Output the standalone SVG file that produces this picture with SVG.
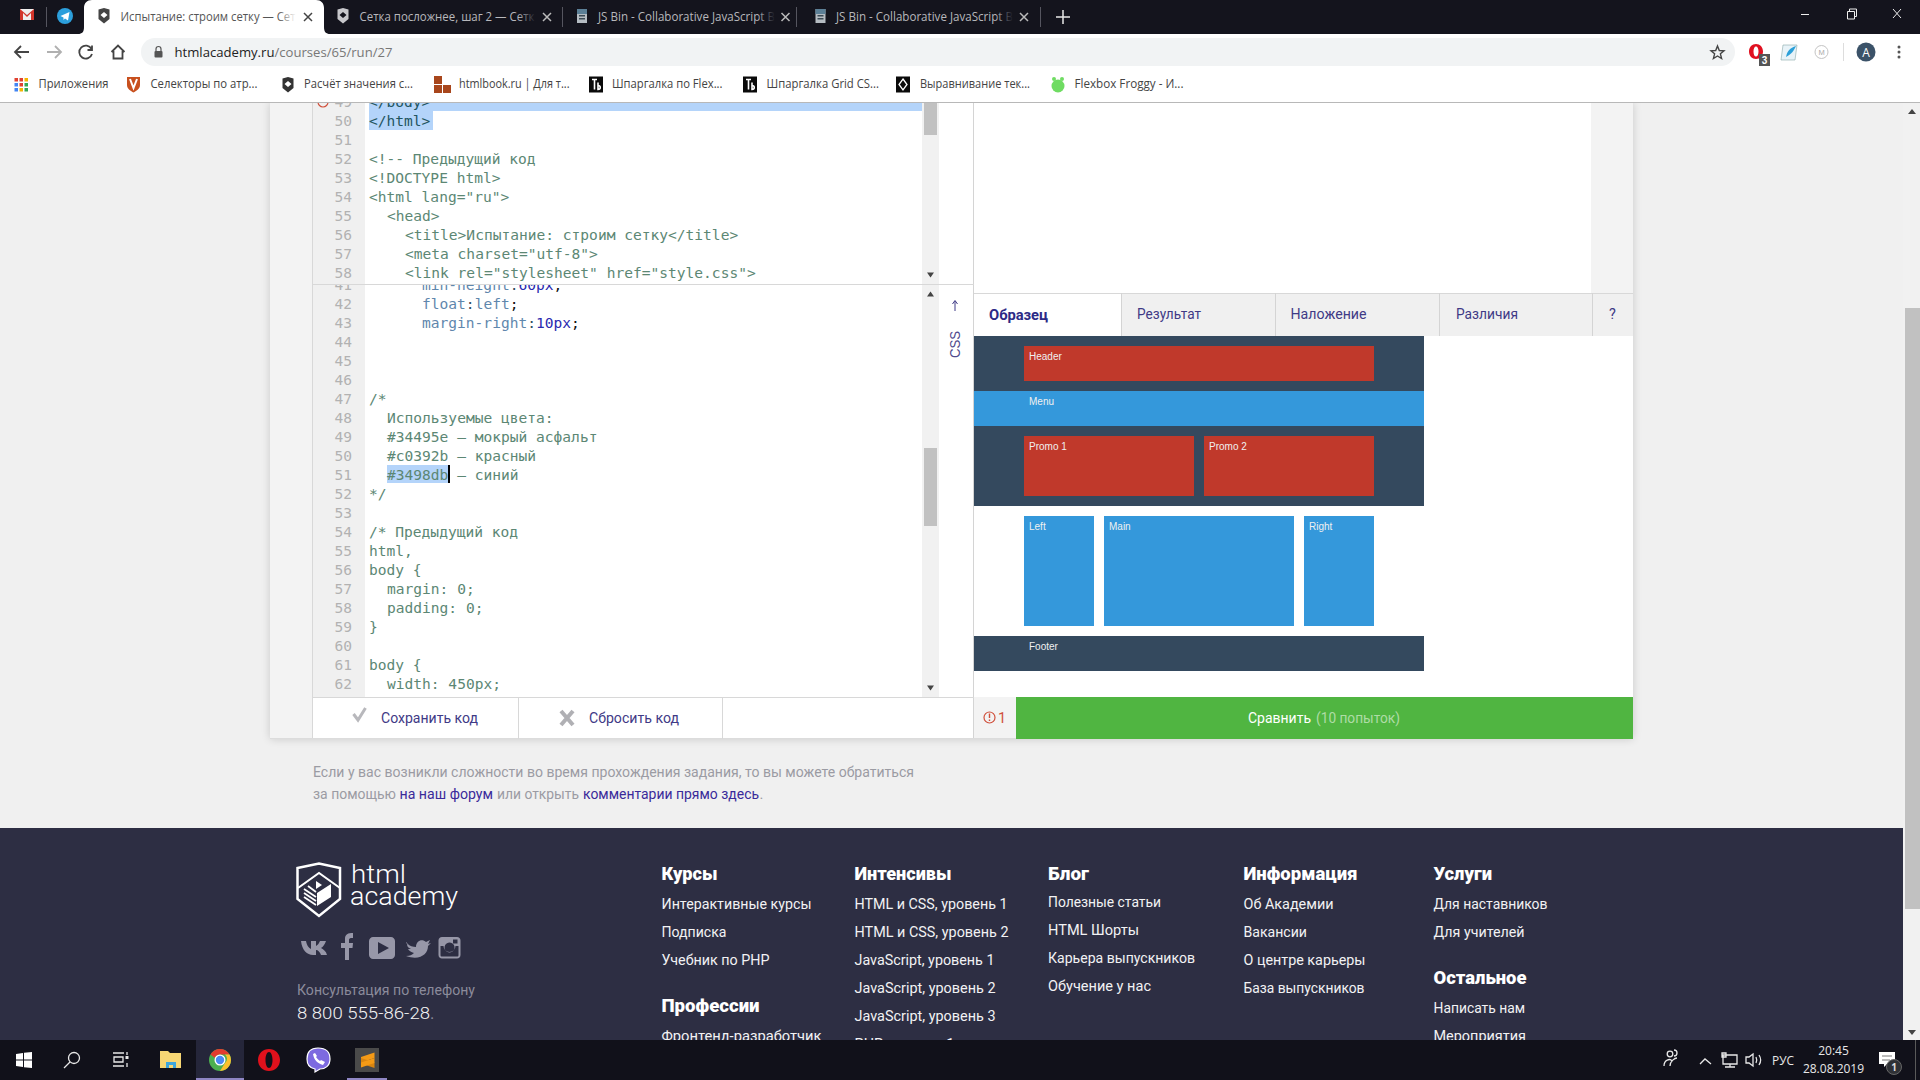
<svg xmlns="http://www.w3.org/2000/svg" width="1920" height="1080" viewBox="0 0 1920 1080">
<style>
.ui{font-family:"Open Sans","Liberation Sans",sans-serif;font-size:12.5px}
.tabd{fill:#b8b8bc}
.bm{fill:#444}
.m{font-family:"DejaVu Sans Mono","Liberation Mono",monospace;font-size:14.57px;white-space:pre}
.n{fill:#b2b2b2;text-anchor:end}
.c{fill:#5c8774}
.t{fill:#1f5560}
.p{fill:#5f87ad}
.o{fill:#2f4f5f}
.v{fill:#2a2ab0}
.k{fill:#111}
.r{font-family:Roboto,"Liberation Sans",sans-serif}
.tab{font-size:14.5px;fill:#3f3a86}
.lab{font-family:"Liberation Sans",Arial,sans-serif;font-size:10px;fill:#f0f0f0}
.note{font-size:14.8px;fill:#9b9ba3}
.lnk{fill:#3a2a9a}
.f{font-size:15.4px;fill:#f2f2f4}
.fh{font-size:17.5px;font-weight:900;fill:#fff}
.tb{font-family:"Open Sans","Liberation Sans",sans-serif;font-size:12px;fill:#e8e8e8}
.ic{fill:none;stroke:#e8e8e8;stroke-width:1.3}
.soc{fill:#9797a8}
</style>
<defs>
<clipPath id="c1"><rect x="312" y="103" width="661" height="181"/></clipPath>
<clipPath id="c2"><rect x="312" y="285" width="661" height="412"/></clipPath>
<filter id="sh" x="-5%" y="-5%" width="110%" height="110%"><feGaussianBlur stdDeviation="5"/></filter>
<linearGradient id="fw" x1="0" x2="1" y1="0" y2="0"><stop offset="0" stop-color="#fff" stop-opacity="0"/><stop offset="1" stop-color="#fff"/></linearGradient>
<linearGradient id="fd" x1="0" x2="1" y1="0" y2="0"><stop offset="0" stop-color="#14141d" stop-opacity="0"/><stop offset="1" stop-color="#14141d"/></linearGradient>
<path id="shield" d="M-5.5,-6.5 L0,-8 L5.5,-6.5 V3 L0,7.5 L-5.5,3 Z M-3.5,-1 L0,-4 L3.5,-1 L0,2 Z" fill-rule="evenodd"/>
<g id="jsb"><rect x="-5" y="-7" width="10" height="14" fill="#b5bcc2"/><rect x="-5" y="-7" width="10" height="5" fill="#5b7f96"/><rect x="-3" y="-1" width="6" height="1.5" fill="#3b4a55"/><rect x="-3" y="2" width="6" height="1.5" fill="#3b4a55"/></g>
<g id="tbi"><rect x="-7" y="-8" width="14" height="16" fill="#0a0a0a"/><path d="M-4,-5 H1 M-1.5,-5 V5 M2,-2 V5 C5,5 5,1 2,1" fill="none" stroke="#fff" stroke-width="1.6"/></g>
<path id="xm" d="M-4,-4 L4,4 M4,-4 L-4,4" fill="none" stroke-width="1.5"/>
</defs>

<rect width="1920" height="1080" fill="#f0f0f0"/>

<g id="page-panel">
<rect x="270" y="103" width="1363" height="636" fill="#000" opacity=".16" filter="url(#sh)"/>
<rect x="270" y="103" width="1363" height="636" fill="#f3f3f3"/>
<rect x="312" y="103" width="662" height="636" fill="#fff"/>
<rect x="974" y="103" width="617" height="190" fill="#fff"/>
<rect x="974" y="336" width="659" height="361" fill="#fff"/>
<rect x="312" y="103" width="1" height="636" fill="#d8d8d8"/>
<rect x="973" y="103" width="1" height="636" fill="#d4d4d4"/>
<rect x="270" y="738" width="1363" height="1" fill="#dcdcdc"/>
</g>

<g id="editor-html">
<rect x="313" y="103" width="52" height="181" fill="#f0f0f0"/>
<rect x="922" y="103" width="17" height="181" fill="#f1f1f1"/>
<rect x="924" y="103" width="13" height="32" fill="#c1c1c1"/>
<path d="M927,272.500 h7 l-3.500,5 z" fill="#444"/>
<g clip-path="url(#c1)">
<rect x="369" y="103" width="553" height="8" fill="#b4d4fa"/>
<rect x="369" y="111" width="64" height="19" fill="#b4d4fa"/>
<circle cx="323" cy="102" r="5" fill="none" stroke="#d0503c" stroke-width="1.200"/>
<g class="m">
<text x="352" y="107" class="n">49</text>
<text x="352" y="126" class="n">50</text>
<text x="352" y="145" class="n">51</text>
<text x="352" y="164" class="n">52</text>
<text x="352" y="183" class="n">53</text>
<text x="352" y="202" class="n">54</text>
<text x="352" y="221" class="n">55</text>
<text x="352" y="240" class="n">56</text>
<text x="352" y="259" class="n">57</text>
<text x="352" y="278" class="n">58</text>
<text x="369" y="107" class="t">&lt;/body&gt;</text>
<text x="369" y="126" class="t">&lt;/html&gt;</text>
<text x="369" y="164" class="c">&lt;!-- Предыдущий код</text>
<text x="369" y="183" class="c">&lt;!DOCTYPE html&gt;</text>
<text x="369" y="202" class="c">&lt;html lang="ru"&gt;</text>
<text x="387" y="221" class="c">&lt;head&gt;</text>
<text x="405" y="240" class="c">&lt;title&gt;Испытание: строим сетку&lt;/title&gt;</text>
<text x="405" y="259" class="c">&lt;meta charset="utf-8"&gt;</text>
<text x="405" y="278" class="c">&lt;link rel="stylesheet" href="style.css"&gt;</text>
</g>
</g>
<rect x="312" y="284" width="662" height="1" fill="#d8d8d8"/>
</g>

<g id="editor-css">
<rect x="313" y="285" width="52" height="412" fill="#f0f0f0"/>
<rect x="922" y="285" width="17" height="412" fill="#f1f1f1"/>
<rect x="924" y="448" width="13" height="78" fill="#c1c1c1"/>
<path d="M927,296.500 h7 l-3.500,-5 z" fill="#444"/>
<path d="M927,685.500 h7 l-3.500,5 z" fill="#444"/>
<rect x="387" y="465" width="62" height="18" fill="#b4d4fa"/>
<g clip-path="url(#c2)"><g class="m">
<text x="352" y="290" class="n">41</text>
<text x="352" y="309" class="n">42</text>
<text x="352" y="328" class="n">43</text>
<text x="352" y="347" class="n">44</text>
<text x="352" y="366" class="n">45</text>
<text x="352" y="385" class="n">46</text>
<text x="352" y="404" class="n">47</text>
<text x="352" y="423" class="n">48</text>
<text x="352" y="442" class="n">49</text>
<text x="352" y="461" class="n">50</text>
<text x="352" y="480" class="n">51</text>
<text x="352" y="499" class="n">52</text>
<text x="352" y="518" class="n">53</text>
<text x="352" y="537" class="n">54</text>
<text x="352" y="556" class="n">55</text>
<text x="352" y="575" class="n">56</text>
<text x="352" y="594" class="n">57</text>
<text x="352" y="613" class="n">58</text>
<text x="352" y="632" class="n">59</text>
<text x="352" y="651" class="n">60</text>
<text x="352" y="670" class="n">61</text>
<text x="352" y="689" class="n">62</text>
<text x="422" y="290"><tspan class="p">min-height</tspan><tspan class="o">:</tspan><tspan class="v">60px</tspan><tspan class="k">;</tspan></text>
<text x="422" y="309"><tspan class="p">float</tspan><tspan class="o">:</tspan><tspan class="p">left</tspan><tspan class="k">;</tspan></text>
<text x="422" y="328"><tspan class="p">margin-right</tspan><tspan class="o">:</tspan><tspan class="v">10px</tspan><tspan class="k">;</tspan></text>
<text x="369" y="404" class="c">/*</text>
<text x="387" y="423" class="c">Используемые цвета:</text>
<text x="387" y="442" class="c">#34495e – мокрый асфальт</text>
<text x="387" y="461" class="c">#c0392b – красный</text>
<text x="387" y="480" class="c">#3498db – синий</text>
<text x="369" y="499" class="c">*/</text>
<text x="369" y="537" class="c">/* Предыдущий код</text>
<text x="369" y="556" class="c">html,</text>
<text x="369" y="575" class="c">body {</text>
<text x="387" y="594" class="c">margin: 0;</text>
<text x="387" y="613" class="c">padding: 0;</text>
<text x="369" y="632" class="c">}</text>
<text x="369" y="670" class="c">body {</text>
<text x="387" y="689" class="c">width: 450px;</text>
</g></g>
<rect x="448" y="465" width="2" height="18" fill="#000"/>
<path d="M955,311 V301 M952.500,304 L955,300.500 L957.500,304" fill="none" stroke="#3f3a86" stroke-width="1"/>
<text transform="translate(960,358) rotate(-90)" font-family="Liberation Sans,Arial,sans-serif" font-size="14" fill="#4f4a8c" textLength="27" lengthAdjust="spacingAndGlyphs">CSS</text>
</g>

<g id="editor-actions">
<rect x="312" y="697" width="662" height="1" fill="#d8d8d8"/>
<rect x="518" y="698" width="1" height="41" fill="#d8d8d8"/>
<rect x="722" y="698" width="1" height="41" fill="#d8d8d8"/>
<path d="M353.500,714 L358,720 L365.500,708" fill="none" stroke="#b8b8bc" stroke-width="3"/>
<text class="r" x="381" y="723" font-size="14.500" fill="#3f3a86" textLength="97" lengthAdjust="spacingAndGlyphs">Сохранить код</text>
<path d="M561,711 L573,725 M573,711 L561,725" fill="none" stroke="#b0b0b4" stroke-width="4"/>
<text class="r" x="589" y="723" font-size="14.500" fill="#3f3a86" textLength="90" lengthAdjust="spacingAndGlyphs">Сбросить код</text>
</g>

<g id="tabs">
<rect x="974" y="293" width="659" height="43" fill="#f0f0f0"/>
<rect x="974" y="294" width="147" height="42" fill="#fff"/>
<rect x="974" y="293" width="659" height="1" fill="#d8d8d8"/>
<rect x="1121" y="293" width="1" height="43" fill="#d4d4d4"/>
<rect x="1275" y="293" width="1" height="43" fill="#d4d4d4"/>
<rect x="1439" y="293" width="1" height="43" fill="#d4d4d4"/>
<rect x="1592" y="293" width="1" height="43" fill="#d4d4d4"/>
<text class="r tab" x="989" y="320" font-weight="700" style="fill:#2c2a86" textLength="59" lengthAdjust="spacingAndGlyphs">Образец</text>
<text class="r tab" x="1137" y="319" textLength="64" lengthAdjust="spacingAndGlyphs">Результат</text>
<text class="r tab" x="1290.500" y="319" textLength="76" lengthAdjust="spacingAndGlyphs">Наложение</text>
<text class="r tab" x="1456" y="319" textLength="62" lengthAdjust="spacingAndGlyphs">Различия</text>
<text class="r tab" x="1609" y="319">?</text>
</g>

<g id="preview">
<rect x="974" y="336" width="450" height="170" fill="#34495e"/>
<rect x="1024" y="346" width="350" height="35" fill="#c0392b"/>
<rect x="974" y="391" width="450" height="35" fill="#3498db"/>
<rect x="1024" y="436" width="170" height="60" fill="#c0392b"/>
<rect x="1204" y="436" width="170" height="60" fill="#c0392b"/>
<rect x="1024" y="516" width="70" height="110" fill="#3498db"/>
<rect x="1104" y="516" width="190" height="110" fill="#3498db"/>
<rect x="1304" y="516" width="70" height="110" fill="#3498db"/>
<rect x="974" y="636" width="450" height="35" fill="#34495e"/>
<text class="lab" x="1029" y="360">Header</text>
<text class="lab" x="1029" y="405">Menu</text>
<text class="lab" x="1029" y="450">Promo 1</text>
<text class="lab" x="1209" y="450">Promo 2</text>
<text class="lab" x="1029" y="530">Left</text>
<text class="lab" x="1109" y="530">Main</text>
<text class="lab" x="1309" y="530">Right</text>
<text class="lab" x="1029" y="650">Footer</text>
</g>

<g id="compare">
<rect x="1016" y="697" width="617" height="42" fill="#50b541"/>
<circle cx="989.500" cy="717.500" r="5.500" fill="none" stroke="#d0503c" stroke-width="1.200"/>
<path d="M989.500,713.500 V718 M989.500,719.500 V721" stroke="#d0503c" stroke-width="1.400"/>
<text class="r" x="998" y="722.500" font-size="14.500" fill="#d0503c">1</text>
<text class="r" x="1248" y="722.500" font-size="15" fill="#fff" textLength="63" lengthAdjust="spacingAndGlyphs">Сравнить</text>
<text class="r" x="1316" y="722.500" font-size="15" fill="#aedca6" textLength="84" lengthAdjust="spacingAndGlyphs">(10 попыток)</text>
</g>

<g id="note" class="r">
<text class="note" x="313" y="777" textLength="601" lengthAdjust="spacingAndGlyphs">Если у вас возникли сложности во время прохождения задания, то вы можете обратиться</text>
<text class="note" x="313" y="799" textLength="83" lengthAdjust="spacingAndGlyphs">за помощью</text>
<text class="note lnk" style="fill:#3a2a9a" x="399.500" y="799" textLength="93.500" lengthAdjust="spacingAndGlyphs">на наш форум</text>
<text class="note" x="497" y="799" textLength="82" lengthAdjust="spacingAndGlyphs">или открыть</text>
<text class="note lnk" style="fill:#3a2a9a" x="583" y="799" textLength="176" lengthAdjust="spacingAndGlyphs">комментарии прямо здесь</text>
<text class="note" x="759.500" y="799">.</text>
</g>

<g id="footer">
<rect x="0" y="828" width="1920" height="212" fill="#2d2e43"/>
<g id="logo">
<path d="M297.500,868 L319,863.500 L340,868 V899 L319,916 L297.500,899 Z" fill="none" stroke="#fff" stroke-width="2.500"/>
<path d="M298,888 L319,873 L340,888" fill="none" stroke="#fff" stroke-width="2"/>
<path d="M304,893 L316,901 M304,897 L316,905 M304,889 L316,897 M308,886 L316,892" fill="none" stroke="#fff" stroke-width="1.800"/>
<path d="M317,893 L331,884 V897 L317,906 Z M316,881 L322,885 L316,889 Z" fill="#fff"/>
<text class="r" x="351" y="883" font-size="25" font-weight="300" fill="#fff" textLength="55" lengthAdjust="spacingAndGlyphs">html</text>
<text class="r" x="350" y="905" font-size="25" font-weight="300" fill="#fff" textLength="108" lengthAdjust="spacingAndGlyphs">academy</text>
</g>
<g id="social" class="soc">
<path d="M301,941 H306 C307,946 309,948 311,949 V941 H316 V946 C318,945 319,943 320,941 H326 C325,944 323,947 321,948 C323,949 326,951 327,955 H321 C320,952 318,950 316,950 V955 H313 C307,955 302,950 301,941 Z"/>
<path d="M345,956 V948 H341 V943 H345 V939 C345,934 348,933 353,933 V938 H351 C349.500,938 349,939 349,940 V943 H353 L352.500,948 H349 V960 H345 Z"/>
<path fill-rule="evenodd" d="M373,937 H391 C393,937 395,939 395,941 V955 C395,957 393,959 391,959 H373 C371,959 369,957 369,955 V941 C369,939 371,937 373,937 Z M378,942 V954 L389,948 Z"/>
<path d="M406,943 C410,946 413,947 416,947 C416,941 422,938 426,942 L430,940 L428,944 L431,943 L428,946 C428,954 420,961 406,956 C410,956 412,955 414,953 C410,952 409,950 408,949 H411 C408,948 407,946 407,944 L409,945 C407,943 406,941 406,943 Z"/>
<path fill-rule="evenodd" d="M442,937 H457 C459,937 460.500,938.500 460.500,940.500 V955 C460.500,957 459,958.500 457,958.500 H442 C440,958.500 438.500,957 438.500,955 V940.500 C438.500,938.500 440,937 442,937 Z M440.500,946 V955 C440.500,956 441,956.500 442,956.500 H457 C458,956.500 458.500,956 458.500,955 V946 H455.500 A6,6 0 1 1 443.500,946 Z M449.500,942.500 A5,5 0 1 0 449.600,942.500 Z M453,939.500 V943.500 H457.500 V939.500 Z"/>
</g>
<g class="r">
<text x="297" y="995" font-size="14.800" fill="#8b8b9b" textLength="178" lengthAdjust="spacingAndGlyphs">Консультация по телефону</text>
<text x="297" y="1019" font-size="16.500" font-weight="300" fill="#f4f4f4" textLength="133" lengthAdjust="spacingAndGlyphs">8 800 555-86-28</text>
<text x="430" y="1019" font-size="16.500" fill="#8b8b9b">.</text>

<text class="fh" x="661.500" y="880" textLength="56" lengthAdjust="spacingAndGlyphs">Курсы</text>
<text class="f" x="661.500" y="909" textLength="150" lengthAdjust="spacingAndGlyphs">Интерактивные курсы</text>
<text class="f" x="661.500" y="937" textLength="65" lengthAdjust="spacingAndGlyphs">Подписка</text>
<text class="f" x="661.500" y="965" textLength="108" lengthAdjust="spacingAndGlyphs">Учебник по PHP</text>
<text class="fh" x="661.500" y="1012" textLength="98" lengthAdjust="spacingAndGlyphs">Профессии</text>
<text class="f" x="661.500" y="1041" textLength="160" lengthAdjust="spacingAndGlyphs">Фронтенд-разработчик</text>

<text class="fh" x="854.500" y="880" textLength="97" lengthAdjust="spacingAndGlyphs">Интенсивы</text>
<text class="f" x="854.500" y="909" textLength="153" lengthAdjust="spacingAndGlyphs">HTML и CSS, уровень 1</text>
<text class="f" x="854.500" y="937" textLength="154" lengthAdjust="spacingAndGlyphs">HTML и CSS, уровень 2</text>
<text class="f" x="854.500" y="965" textLength="140" lengthAdjust="spacingAndGlyphs">JavaScript, уровень 1</text>
<text class="f" x="854.500" y="993" textLength="141" lengthAdjust="spacingAndGlyphs">JavaScript, уровень 2</text>
<text class="f" x="854.500" y="1021" textLength="141" lengthAdjust="spacingAndGlyphs">JavaScript, уровень 3</text>
<text class="f" x="854.500" y="1049" textLength="100" lengthAdjust="spacingAndGlyphs">PHP, уровень 1</text>

<text class="fh" x="1048" y="880" textLength="41" lengthAdjust="spacingAndGlyphs">Блог</text>
<text class="f" x="1048" y="907" textLength="113" lengthAdjust="spacingAndGlyphs">Полезные статьи</text>
<text class="f" x="1048" y="935" textLength="91" lengthAdjust="spacingAndGlyphs">HTML Шорты</text>
<text class="f" x="1048" y="963" textLength="147" lengthAdjust="spacingAndGlyphs">Карьера выпускников</text>
<text class="f" x="1048" y="991" textLength="103" lengthAdjust="spacingAndGlyphs">Обучение у нас</text>

<text class="fh" x="1243.500" y="880" textLength="114" lengthAdjust="spacingAndGlyphs">Информация</text>
<text class="f" x="1243.500" y="909" textLength="90" lengthAdjust="spacingAndGlyphs">Об Академии</text>
<text class="f" x="1243.500" y="937" textLength="63.500" lengthAdjust="spacingAndGlyphs">Вакансии</text>
<text class="f" x="1243.500" y="965" textLength="122" lengthAdjust="spacingAndGlyphs">О центре карьеры</text>
<text class="f" x="1243.500" y="993" textLength="121" lengthAdjust="spacingAndGlyphs">База выпускников</text>

<text class="fh" x="1433.500" y="880" textLength="58.500" lengthAdjust="spacingAndGlyphs">Услуги</text>
<text class="f" x="1433.500" y="909" textLength="114" lengthAdjust="spacingAndGlyphs">Для наставников</text>
<text class="f" x="1433.500" y="937" textLength="91" lengthAdjust="spacingAndGlyphs">Для учителей</text>
<text class="fh" x="1433.500" y="984" textLength="93" lengthAdjust="spacingAndGlyphs">Остальное</text>
<text class="f" x="1433.500" y="1013" textLength="91.500" lengthAdjust="spacingAndGlyphs">Написать нам</text>
<text class="f" x="1433.500" y="1041" textLength="92.500" lengthAdjust="spacingAndGlyphs">Мероприятия</text>
</g>
</g>

<g id="page-scrollbar">
<rect x="1903" y="103" width="17" height="937" fill="#f1f1f1"/>
<rect x="1905" y="308" width="15" height="601" fill="#c1c1c1"/>
<path d="M1908,114 h8 l-4,-5 z" fill="#444"/>
<path d="M1908,1030 h8 l-4,5 z" fill="#444"/>
</g>

<g id="browser-tabs">
<rect x="0" y="0" width="1920" height="34" fill="#14141d"/>
<rect x="20" y="9" width="14" height="11" fill="#efefef"/>
<path d="M20,20 V9 L27,15 L34,9 V20 H31 V13 L27,17 L23,13 V20 Z" fill="#d2352b"/>
<rect x="46" y="7" width="1" height="20" fill="#55555f"/>
<circle cx="65" cy="16" r="8" fill="#2c9fdc"/>
<path d="M60.500,16 L69.500,12 L68,20.500 L65,18.500 L63.500,20 L63.500,17.500 Z" fill="#fff"/>
<path d="M78,34 C82,34 84,32 84,27 V8 C84,3 87,0 92,0 H316 C321,0 324,3 324,8 V27 C324,32 326,34 330,34 Z" fill="#fff"/>
<use href="#shield" x="104" y="16" fill="#444"/>
<text class="ui" x="120.500" y="21" fill="#555" textLength="175" lengthAdjust="spacingAndGlyphs">Испытание: строим сетку — Сет</text>
<rect x="278" y="6" width="18" height="22" fill="url(#fw)"/>
<use href="#xm" x="308" y="17" stroke="#444"/>
<use href="#shield" x="343" y="16" fill="#c8c8cc"/>
<text class="ui tabd" x="359.500" y="21" textLength="175" lengthAdjust="spacingAndGlyphs">Сетка посложнее, шаг 2 — Сетк</text>
<rect x="518" y="6" width="18" height="22" fill="url(#fd)"/>
<use href="#xm" x="547" y="17" stroke="#bbb"/>
<rect x="562" y="7" width="1" height="20" fill="#55555f"/>
<use href="#jsb" x="582" y="16"/>
<text class="ui tabd" x="598" y="21" textLength="177" lengthAdjust="spacingAndGlyphs">JS Bin - Collaborative JavaScript B</text>
<rect x="757" y="6" width="18" height="22" fill="url(#fd)"/>
<use href="#xm" x="785.500" y="17" stroke="#bbb"/>
<rect x="796" y="7" width="1" height="20" fill="#55555f"/>
<use href="#jsb" x="820.500" y="16"/>
<text class="ui tabd" x="836" y="21" textLength="177" lengthAdjust="spacingAndGlyphs">JS Bin - Collaborative JavaScript B</text>
<rect x="995" y="6" width="18" height="22" fill="url(#fd)"/>
<use href="#xm" x="1024" y="17" stroke="#bbb"/>
<rect x="1040" y="7" width="1" height="20" fill="#55555f"/>
<path d="M1063,10 V24 M1056,17 H1070" stroke="#e8e8e8" stroke-width="1.500"/>
<path d="M1801,14.500 H1809" stroke="#eee" stroke-width="1"/>
<path d="M1847.500,11.500 H1854.500 V19 H1847.500 Z M1849.500,11.500 V9 H1856.500 V16.500 H1854.500" fill="none" stroke="#eee"/>
<path d="M1893,9 L1901,18 M1901,9 L1893,18" stroke="#eee" stroke-width="1"/>
</g>

<g id="toolbar">
<rect x="0" y="34" width="1920" height="34" fill="#fff"/>
<rect x="141" y="38" width="1594" height="28" rx="14" fill="#f1f3f4"/>
<path d="M29,52 H15 M21,46 L15,52 L21,58" fill="none" stroke="#444" stroke-width="1.800"/>
<path d="M47,52 H61 M55,46 L61,52 L55,58" fill="none" stroke="#b0b0b0" stroke-width="1.800"/>
<path d="M91.500,49 A6.500,6.500 0 1 0 92,54 M92,45.500 V50 H87.500" fill="none" stroke="#444" stroke-width="1.800"/>
<path d="M111.500,52 L118,45.500 L124.500,52 M113.500,51 V58.500 H122.500 V51" fill="none" stroke="#444" stroke-width="1.800"/>
<rect x="154.500" y="51" width="8" height="6.500" rx="1" fill="#555"/>
<path d="M156,51 V49 A2.500,2.500 0 0 1 161,49 V51" fill="none" stroke="#555" stroke-width="1.200"/>
<text x="174.500" y="57" font-family="Open Sans,Liberation Sans,sans-serif" font-size="13.500" textLength="218" lengthAdjust="spacingAndGlyphs"><tspan fill="#222">htmlacademy.ru</tspan><tspan fill="#777">/courses/65/run/27</tspan></text>
<path d="M1717.500,46 L1719.300,50.500 L1724,50.800 L1720.400,53.800 L1721.600,58.500 L1717.500,56 L1713.400,58.500 L1714.600,53.800 L1711,50.800 L1715.700,50.500 Z" fill="none" stroke="#444" stroke-width="1.400"/>
<path fill-rule="evenodd" d="M1756,44 C1760,44 1763,47 1763,51.500 C1763,56 1760,59 1756,59 C1752,59 1749,56 1749,51.500 C1749,47 1752,44 1756,44 Z M1756,46.500 C1754.500,46.500 1753.500,48.500 1753.500,51.500 C1753.500,54.500 1754.500,56.500 1756,56.500 C1757.500,56.500 1758.500,54.500 1758.500,51.500 C1758.500,48.500 1757.500,46.500 1756,46.500 Z" fill="#e01020"/>
<rect x="1759" y="54" width="11" height="12" fill="#555"/>
<text x="1764.500" y="64" text-anchor="middle" font-family="Liberation Sans,sans-serif" font-size="10" font-weight="700" fill="#fff">3</text>
<path d="M1783,45 H1797 L1795,60 H1781 Z" fill="#e8f3f8" stroke="#8aa" stroke-width=".6"/>
<path d="M1786,57 C1787,51 1790,48 1796,46 C1794,50 1792,54 1786,57 Z" fill="#2a9fd8"/>
<circle cx="1821.500" cy="52" r="6.500" fill="#fff" stroke="#c4c4c4"/>
<text x="1821.500" y="55" text-anchor="middle" font-family="Liberation Sans,sans-serif" font-size="7.500" fill="#aaa">M</text>
<rect x="1843" y="43" width="1" height="18" fill="#ddd"/>
<circle cx="1866" cy="52" r="9.500" fill="#3b5268"/>
<text x="1866" y="56.500" text-anchor="middle" font-family="Open Sans,sans-serif" font-size="12" fill="#fff">A</text>
<g fill="#555"><circle cx="1899" cy="47" r="1.500"/><circle cx="1899" cy="52" r="1.500"/><circle cx="1899" cy="57" r="1.500"/></g>
</g>

<g id="bookmarks">
<rect x="0" y="68" width="1920" height="34" fill="#fff"/>
<rect x="0" y="102" width="1920" height="1" fill="#b8b8b8"/>
<g>
<rect x="14.500" y="78" width="3.500" height="3.500" fill="#e04030"/><rect x="19.500" y="78" width="3.500" height="3.500" fill="#e04030"/><rect x="24.500" y="78" width="3.500" height="3.500" fill="#f4b400"/>
<rect x="14.500" y="83" width="3.500" height="3.500" fill="#4285f4"/><rect x="19.500" y="83" width="3.500" height="3.500" fill="#e04030"/><rect x="24.500" y="83" width="3.500" height="3.500" fill="#34a853"/>
<rect x="14.500" y="88" width="3.500" height="3.500" fill="#4285f4"/><rect x="19.500" y="88" width="3.500" height="3.500" fill="#f4b400"/><rect x="24.500" y="88" width="3.500" height="3.500" fill="#34a853"/>
</g>
<text class="ui bm" x="38.500" y="88" textLength="70" lengthAdjust="spacingAndGlyphs">Приложения</text>
<path d="M127,77 H140 V85 C140,89 136,91 133.500,92.500 C131,91 127,89 127,85 Z" fill="#c8501e"/>
<path d="M130,79 L133.500,88 L137,79" fill="none" stroke="#fff" stroke-width="2"/>
<text class="ui bm" x="150.500" y="88" textLength="107" lengthAdjust="spacingAndGlyphs">Селекторы по атр...</text>
<use href="#shield" x="288" y="85" fill="#333"/>
<text class="ui bm" x="304" y="88" textLength="109" lengthAdjust="spacingAndGlyphs">Расчёт значения с...</text>
<rect x="434" y="76" width="8" height="8" fill="#a8461c"/><rect x="434" y="85" width="8" height="8" fill="#a8461c"/><rect x="443" y="85" width="8" height="8" fill="#a8461c"/>
<text class="ui bm" x="459" y="88" textLength="110.500" lengthAdjust="spacingAndGlyphs">htmlbook.ru | Для т...</text>
<use href="#tbi" x="596" y="84.500"/>
<text class="ui bm" x="612" y="88" textLength="110.500" lengthAdjust="spacingAndGlyphs">Шпаргалка по Flex...</text>
<use href="#tbi" x="750" y="84.500"/>
<text class="ui bm" x="766.500" y="88" textLength="112.500" lengthAdjust="spacingAndGlyphs">Шпаргалка Grid CS...</text>
<rect x="896" y="76.500" width="14" height="16" fill="#0a0a0a"/>
<path d="M903,79 L907,84.500 L903,90 L899,84.500 Z" fill="none" stroke="#fff" stroke-width="1.300"/>
<text class="ui bm" x="920" y="88" textLength="110" lengthAdjust="spacingAndGlyphs">Выравнивание тек...</text>
<ellipse cx="1058" cy="86" rx="6.500" ry="6.500" fill="#6fdc62"/>
<circle cx="1054" cy="79" r="2" fill="#6fdc62"/><circle cx="1062" cy="79" r="2" fill="#6fdc62"/>
<text class="ui bm" x="1074.500" y="88" textLength="109" lengthAdjust="spacingAndGlyphs">Flexbox Froggy - И...</text>
</g>

<g id="taskbar">
<rect x="0" y="1040" width="1920" height="40" fill="#11111a"/>
<rect x="196" y="1040" width="48" height="40" fill="#25263a"/>
<rect x="196" y="1078" width="48" height="2" fill="#8f86c4"/>
<rect x="347" y="1078" width="40" height="2" fill="#8f86c4"/>
<path d="M16,1054 L23,1053 V1059.500 H16 Z M24,1052.800 L32,1052 V1059.500 H24 Z M16,1060.500 H23 V1067 L16,1066 Z M24,1060.500 H32 V1068 L24,1067.200 Z" fill="#fff"/>
<circle cx="74" cy="1058" r="5.500" class="ic"/><path d="M70,1062 L64,1068" class="ic"/>
<path d="M113,1053 H124 M113,1066 H124 M114,1057 H123 V1062 H114 Z M127,1052 V1055 M127,1063 V1067" class="ic"/><rect x="125.500" y="1056" width="3" height="3" fill="#e8e8e8"/>
<path d="M160,1051 H168 L170,1053 H181 V1068 H160 Z" fill="#f7d774"/>
<path d="M166,1068 V1062 H176 V1068 H173 V1065 H169 V1068 Z" fill="#3ea6dc"/>
<circle cx="220" cy="1060" r="11" fill="#4caf50"/>
<path d="M210.500,1054.500 A11,11 0 0 1 229.500,1054.500 H220 A5.500,5.500 0 0 0 215,1058 Z" fill="#e33b2e"/>
<path d="M229.500,1054.500 A11,11 0 0 1 220,1071 L225,1063 A5.500,5.500 0 0 0 225,1054.500 Z" fill="#fbc02d"/>
<circle cx="220" cy="1060" r="5.500" fill="#fff"/><circle cx="220" cy="1060" r="4.200" fill="#4a8af4"/>
<path fill-rule="evenodd" d="M269,1049 C275,1049 280,1053.500 280,1060 C280,1066.500 275,1071 269,1071 C263,1071 258,1066.500 258,1060 C258,1053.500 263,1049 269,1049 Z M269,1052 C267,1052 265.500,1055.500 265.500,1060 C265.500,1064.500 267,1068 269,1068 C271,1068 272.500,1064.500 272.500,1060 C272.500,1055.500 271,1052 269,1052 Z" fill="#e0111c"/>
<path d="M318,1048 C328,1048 330,1053 330,1059 C330,1066 325,1069 320,1069 L315,1072 V1069 C309,1068 307,1064 307,1059 C307,1052 310,1048 318,1048 Z" fill="#7d6ae0" stroke="#fff" stroke-width="1.200"/>
<path d="M313,1054 C314,1060 317,1063 323,1065 L325,1062 L321,1060 L320,1061 C318,1060 317,1058 316,1057 L317,1056 L315,1053 Z" fill="#fff"/>
<rect x="355" y="1048" width="24" height="24" fill="#4a4a4a"/>
<path d="M374.500,1052.500 L361,1057 V1062.500 L374.500,1058 Z" fill="#f49a16"/>
<path d="M361,1058 L374.500,1062.500 V1068 L361,1063.500 Z" fill="#d98510"/>
<path d="M374.500,1063 L361,1067.500 V1062.500 L374.500,1058 Z" fill="#f49a16"/>
<circle cx="1670" cy="1054" r="2.800" class="ic"/><path d="M1664,1066 C1664,1060 1670,1058 1672,1061 M1674,1050 A3,3 0 1 1 1674,1056 M1670,1066 C1670,1061 1675,1058 1677,1058" class="ic"/>
<path d="M1700,1064 L1705,1059 L1711,1064" class="ic"/>
<path d="M1723,1055 H1737 V1064 H1723 Z M1730,1064 V1067 M1725,1067 H1735 M1722,1053 H1726 V1057 H1722 Z" class="ic"/>
<path d="M1746,1057 H1749 L1753,1054 V1066 L1749,1063 H1746 Z M1756,1057 C1757,1059 1757,1061 1756,1063 M1759,1055 C1761,1058 1761,1062 1759,1065" class="ic"/>
<text class="tb" x="1783" y="1064.500" text-anchor="middle" textLength="22" lengthAdjust="spacingAndGlyphs">РУС</text>
<text class="tb" x="1833.500" y="1055" text-anchor="middle">20:45</text>
<text class="tb" x="1833.500" y="1073" text-anchor="middle">28.08.2019</text>
<path d="M1879,1052 H1895 V1064 H1887 L1884,1067 V1064 H1879 Z" fill="#fff"/>
<path d="M1882,1056 H1892 M1882,1060 H1890" stroke="#777" stroke-width="1"/>
<circle cx="1894" cy="1067" r="7.500" fill="#2f3136" stroke="#666"/>
<text x="1894" y="1071" text-anchor="middle" font-family="Open Sans,sans-serif" font-size="10" font-weight="700" fill="#ddd">1</text>
<rect x="1915" y="1040" width="1" height="40" fill="#5a5a5a"/>
</g>
</svg>
